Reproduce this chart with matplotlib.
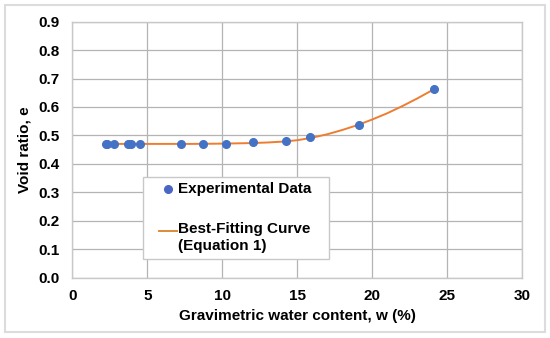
import matplotlib
matplotlib.use("Agg")
import matplotlib.pyplot as plt
from matplotlib.patches import Rectangle
from matplotlib.lines import Line2D

plt.rcParams['font.family'] = ['Liberation Sans', 'DejaVu Sans']

# Experimental data
w_exp = [2.22, 2.33, 2.78, 3.69, 3.89, 4.51, 7.25, 8.69, 10.25, 12.07, 14.22, 15.87, 19.11, 24.09]
e_exp = [0.470, 0.470, 0.470, 0.470, 0.470, 0.470, 0.470, 0.470, 0.470, 0.475, 0.479, 0.495, 0.536, 0.662]

# Best-fitting curve
w_fit = [2.2, 5, 8, 10, 12, 13, 14, 15, 16, 17, 18, 19, 20, 21, 22, 23, 24.1]
e_fit = [0.470, 0.470, 0.470, 0.471, 0.473, 0.475, 0.478, 0.483, 0.492, 0.504, 0.519, 0.536, 0.556, 0.578, 0.603, 0.630, 0.662]

xticks = [0, 5, 10, 15, 20, 25, 30]
yticks = [0.0, 0.1, 0.2, 0.3, 0.4, 0.5, 0.6, 0.7, 0.8, 0.9]

label_exp = 'Experimental Data'
label_fit = 'Best-Fitting Curve\n(Equation 1)'

W, H = 550, 338
def fx(px):
    return px / W
def fy(py):
    return 1 - py / H

fig = plt.figure(figsize=(5.5, 3.38), dpi=100)
fig.patches.append(Rectangle((fx(5), fy(332)), 540 / W, 327 / H, transform=fig.transFigure,
                             fill=False, edgecolor='#dcdcdc', linewidth=1.5))
ax = fig.add_axes([fx(72.3), fy(277.5), 450 / W, 255.8 / H])

ax.plot(w_fit, e_fit, color='#ED7D31', linewidth=1.4, zorder=2)
ax.plot(w_exp, e_exp, 'o', color='#4472C4', markersize=5.5, zorder=3)

ax.set_xlim(0, 30)
ax.set_ylim(0, 0.9)
ax.set_xticks(xticks)
ax.set_yticks(yticks)
ax.set_xticklabels([str(v) for v in xticks], fontweight='bold', fontsize=11)
ax.set_yticklabels([f'{v:.1f}' for v in yticks], fontweight='bold', fontsize=11)
ax.tick_params(axis='x', length=0, pad=8.5)
ax.tick_params(axis='y', length=0, pad=9)
ax.grid(True, color='#b4b4b4', linewidth=0.9)
ax.set_axisbelow(True)
for s in ax.spines.values():
    s.set_color('#c8c8c8')
    s.set_linewidth(1.0)

ax.set_xlabel('Gravimetric water content, w (%)', fontweight='bold', fontsize=11, labelpad=4)
ax.set_ylabel('Void ratio, e', fontweight='bold', fontsize=11, labelpad=5)

# Legend (drawn manually to match the reference layout)
fig.patches.append(Rectangle((fx(143), fy(259.3)), (329.3 - 143) / W, (259.3 - 176.7) / H,
                             transform=fig.transFigure, facecolor='white', edgecolor='#c8c8c8',
                             linewidth=1.0, zorder=5))
fig.lines.append(Line2D([fx(167.5)], [fy(189)], marker='o', color='#4A66C4', markersize=5.5,
                        linestyle='none', transform=fig.transFigure, zorder=6))
fig.lines.append(Line2D([fx(158.5), fx(176.5)], [fy(231), fy(231)], color='#DE8A36', linewidth=1.4,
                        transform=fig.transFigure, zorder=6))
fig.text(fx(178.5), fy(189), label_exp, fontweight='bold', fontsize=11, va='center', ha='left', zorder=7)
fig.text(fx(178.5), fy(222.5), label_fit, fontweight='bold', fontsize=11, va='top', ha='left',
         linespacing=1.2, zorder=7)

fig.savefig('out.png', dpi=100, facecolor='white')
